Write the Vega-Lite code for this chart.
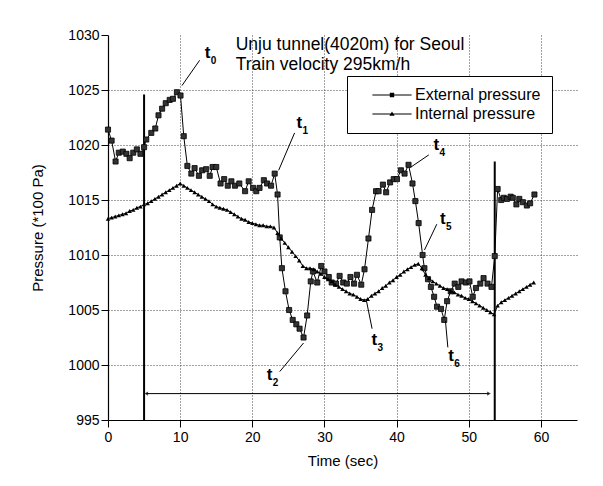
{
  "$schema": "https://vega.github.io/schema/vega-lite/v6.json",
  "width": 469,
  "height": 385,
  "autosize": "none",
  "padding": {"left": 108, "top": 35, "right": 26, "bottom": 66},
  "background": "white",
  "config": {
    "view": {"stroke": null},
    "font": "Liberation Sans",
    "axis": {
      "domainColor": "black", "domainWidth": 1.2, "tickColor": "black", "tickWidth": 1,
      "labelFont": "Liberation Sans", "labelFontSize": 14, "labelColor": "black", "labelOverlap": false,
      "titleFont": "Liberation Sans", "titleFontSize": 15, "titleFontWeight": "normal", "titleColor": "black",
      "gridColor": "#444", "gridDash": [1, 2], "gridWidth": 1
    }
  },
  "datasets": {
    "ext": [
      {"t":0,"p":1021.4},{"t":0.5,"p":1020.4},{"t":1.05,"p":1018.5},{"t":1.5,"p":1019.3},{"t":2.05,"p":1019.4},
      {"t":2.55,"p":1019.2},{"t":3.0,"p":1018.8},{"t":3.5,"p":1019.3},{"t":4.0,"p":1019.6},{"t":4.5,"p":1019.2},
      {"t":5.0,"p":1019.8},{"t":5.3,"p":1020.5},{"t":6.0,"p":1021.1},{"t":6.55,"p":1021.5},{"t":7.0,"p":1022.7},
      {"t":7.5,"p":1023.3},{"t":8.0,"p":1023.8},{"t":8.55,"p":1024.1},{"t":9.0,"p":1024.2},{"t":9.55,"p":1024.8},
      {"t":10.05,"p":1024.5},{"t":10.5,"p":1020.8},{"t":11.0,"p":1018.1},{"t":11.55,"p":1017.4},{"t":12.0,"p":1017.9},
      {"t":12.6,"p":1017.2},{"t":13.05,"p":1017.7},{"t":13.6,"p":1017.8},{"t":14.1,"p":1017.2},{"t":14.5,"p":1018.0},
      {"t":15.0,"p":1018.0},{"t":15.6,"p":1016.5},{"t":16.1,"p":1016.9},{"t":16.6,"p":1016.3},{"t":17.1,"p":1016.7},
      {"t":17.6,"p":1016.3},{"t":18.2,"p":1016.5},{"t":19.0,"p":1015.8},{"t":19.5,"p":1016.7},{"t":20.1,"p":1016.1},
      {"t":20.55,"p":1015.8},{"t":21.0,"p":1016.1},{"t":21.6,"p":1016.8},{"t":22.05,"p":1016.5},{"t":22.6,"p":1016.3},
      {"t":23.1,"p":1017.4},{"t":23.5,"p":1015.5},{"t":23.8,"p":1011.6},{"t":24.1,"p":1008.8},{"t":24.6,"p":1006.7},
      {"t":25.1,"p":1005.0},{"t":25.6,"p":1004.1},{"t":26.1,"p":1003.7},{"t":26.55,"p":1003.3},{"t":27.1,"p":1002.5},
      {"t":27.6,"p":1004.5},{"t":28.1,"p":1007.6},{"t":28.4,"p":1008.5},{"t":29.0,"p":1007.5},{"t":29.55,"p":1009.0},
      {"t":30.0,"p":1008.5},{"t":30.6,"p":1008.0},{"t":31.0,"p":1007.5},{"t":31.6,"p":1007.4},{"t":32.1,"p":1008.1},
      {"t":32.6,"p":1007.5},{"t":33.1,"p":1007.4},{"t":33.6,"p":1008.0},{"t":34.1,"p":1007.4},{"t":34.5,"p":1008.2},
      {"t":35.1,"p":1007.3},{"t":35.55,"p":1008.7},{"t":36.1,"p":1011.5},{"t":36.6,"p":1014.1},{"t":37.15,"p":1015.8},
      {"t":37.5,"p":1015.8},{"t":38.1,"p":1016.4},{"t":38.55,"p":1015.7},{"t":39.1,"p":1016.6},{"t":39.6,"p":1016.9},
      {"t":40.05,"p":1016.9},{"t":40.6,"p":1017.7},{"t":41.1,"p":1017.4},{"t":41.65,"p":1018.2},{"t":42.2,"p":1016.5},
      {"t":42.6,"p":1014.9},{"t":43.05,"p":1012.9},{"t":43.6,"p":1010.0},{"t":43.85,"p":1008.8},{"t":44.35,"p":1007.8},
      {"t":44.75,"p":1007.1},{"t":45.2,"p":1006.2},{"t":45.6,"p":1005.3},{"t":46.15,"p":1005.1},{"t":46.6,"p":1004.1},
      {"t":47.0,"p":1005.8},{"t":47.5,"p":1006.7},{"t":48.05,"p":1007.4},{"t":48.55,"p":1007.1},{"t":49.0,"p":1007.6},
      {"t":49.6,"p":1007.5},{"t":50.1,"p":1007.6},{"t":50.55,"p":1006.2},{"t":51.0,"p":1007.0},{"t":51.6,"p":1007.4},
      {"t":52.05,"p":1007.9},{"t":52.6,"p":1007.4},{"t":53.15,"p":1007.1},{"t":53.6,"p":1009.9},{"t":54.0,"p":1016.0},
      {"t":54.5,"p":1015.0},{"t":54.85,"p":1015.2},{"t":55.3,"p":1015.1},{"t":55.8,"p":1015.3},{"t":56.1,"p":1015.2},
      {"t":56.6,"p":1014.6},{"t":57.0,"p":1015.1},{"t":57.5,"p":1014.8},{"t":58.05,"p":1014.5},{"t":58.5,"p":1014.7},
      {"t":59.1,"p":1015.5}
    ],
    "int": [
      {"t":0,"p":1013.3},{"t":0.5,"p":1013.4},{"t":1,"p":1013.5},{"t":1.5,"p":1013.6},{"t":2,"p":1013.7},{"t":2.5,"p":1013.8},
      {"t":3,"p":1014.0},{"t":3.5,"p":1014.1},{"t":4,"p":1014.3},{"t":4.5,"p":1014.4},{"t":5,"p":1014.6},{"t":5.5,"p":1014.7},
      {"t":6,"p":1014.9},{"t":6.5,"p":1015.1},{"t":7,"p":1015.3},{"t":7.5,"p":1015.5},{"t":8,"p":1015.7},{"t":8.5,"p":1015.9},
      {"t":9,"p":1016.1},{"t":9.5,"p":1016.3},{"t":10,"p":1016.5},{"t":10.5,"p":1016.3},{"t":11,"p":1016.1},{"t":11.5,"p":1015.9},
      {"t":12,"p":1015.7},{"t":12.5,"p":1015.5},{"t":13,"p":1015.3},{"t":13.5,"p":1015.1},{"t":14,"p":1014.9},{"t":14.5,"p":1014.6},
      {"t":15,"p":1014.4},{"t":15.5,"p":1014.3},{"t":16,"p":1014.2},{"t":16.5,"p":1014.1},{"t":17,"p":1013.9},{"t":17.5,"p":1013.7},
      {"t":18,"p":1013.5},{"t":18.5,"p":1013.3},{"t":19,"p":1013.2},{"t":19.5,"p":1013.0},{"t":20,"p":1012.9},{"t":20.5,"p":1012.8},
      {"t":21,"p":1012.7},{"t":21.5,"p":1012.7},{"t":22,"p":1012.6},{"t":22.5,"p":1012.6},{"t":23,"p":1012.5},{"t":23.5,"p":1012.0},
      {"t":24,"p":1011.5},{"t":24.5,"p":1011.1},{"t":25,"p":1010.7},{"t":25.5,"p":1010.3},{"t":26,"p":1009.9},{"t":26.5,"p":1009.5},
      {"t":27,"p":1009.0},{"t":27.5,"p":1008.8},{"t":28,"p":1008.8},{"t":28.5,"p":1008.7},{"t":29,"p":1008.5},{"t":29.5,"p":1008.3},
      {"t":30,"p":1008.0},{"t":30.5,"p":1007.8},{"t":31,"p":1007.6},{"t":31.5,"p":1007.3},{"t":32,"p":1007.1},{"t":32.5,"p":1006.9},
      {"t":33,"p":1006.7},{"t":33.5,"p":1006.5},{"t":34,"p":1006.4},{"t":34.5,"p":1006.2},{"t":35,"p":1006.0},{"t":35.5,"p":1005.9},
      {"t":36,"p":1006.0},{"t":36.5,"p":1006.3},{"t":37,"p":1006.5},{"t":37.5,"p":1006.7},{"t":38,"p":1007.0},{"t":38.5,"p":1007.2},
      {"t":39,"p":1007.5},{"t":39.5,"p":1007.7},{"t":40,"p":1008.0},{"t":40.5,"p":1008.2},{"t":41,"p":1008.5},{"t":41.5,"p":1008.7},
      {"t":42,"p":1008.9},{"t":42.5,"p":1009.1},{"t":43,"p":1009.2},{"t":43.5,"p":1008.8},{"t":44,"p":1008.2},{"t":44.5,"p":1007.9},
      {"t":45,"p":1007.6},{"t":45.5,"p":1007.4},{"t":46,"p":1007.2},{"t":46.5,"p":1007.0},{"t":47,"p":1006.9},{"t":47.5,"p":1006.7},
      {"t":48,"p":1006.6},{"t":48.5,"p":1006.4},{"t":49,"p":1006.3},{"t":49.5,"p":1006.1},{"t":50,"p":1006.0},{"t":50.5,"p":1005.8},
      {"t":51,"p":1005.6},{"t":51.5,"p":1005.4},{"t":52,"p":1005.2},{"t":52.5,"p":1005.0},{"t":53,"p":1004.8},{"t":53.5,"p":1004.6},
      {"t":54,"p":1005.4},{"t":54.5,"p":1005.7},{"t":55,"p":1005.9},{"t":55.5,"p":1006.1},{"t":56,"p":1006.3},{"t":56.5,"p":1006.5},
      {"t":57,"p":1006.7},{"t":57.5,"p":1006.9},{"t":58,"p":1007.1},{"t":58.5,"p":1007.3},{"t":59,"p":1007.5}
    ],
    "vr": [{"t":5,"y1":995,"y2":1024.6},{"t":53.6,"y1":995,"y2":1018.5}],
    "arrow": [{"x1":5.3,"x2":52.8,"y":997.4}],
    "leaders": [
      {"x1":10.25,"y1":1025.4,"x2":12.7,"y2":1027.7},
      {"x1":23.65,"y1":1017.7,"x2":25.86,"y2":1021.1},
      {"x1":23.8,"y1":999.4,"x2":27.1,"y2":1002.0},
      {"x1":35.8,"y1":1005.9,"x2":36.6,"y2":1003.3},
      {"x1":42.0,"y1":1018.0,"x2":44.46,"y2":1019.1},
      {"x1":43.86,"y1":1010.45,"x2":45.57,"y2":1012.8},
      {"x1":46.77,"y1":1004.0,"x2":47.1,"y2":1001.6}
    ],
    "labels": [
      {"t":13.8,"p":1028.4,"sub":"0"},
      {"t":26.5,"p":1022.0,"sub":"1"},
      {"t":22.4,"p":999.1,"sub":"2"},
      {"t":36.9,"p":1002.3,"sub":"3"},
      {"t":45.5,"p":1020.0,"sub":"4"},
      {"t":46.4,"p":1013.3,"sub":"5"},
      {"t":47.55,"p":1000.8,"sub":"6"}
    ],
    "titles": [
      {"t":17.7,"p":1028.64,"txt":"Unju tunnel(4020m) for Seoul"},
      {"t":17.7,"p":1026.82,"txt":"Train velocity 295km/h"}
    ]
  },
  "layer": [
    {
      "data": {"name": "vr"},
      "mark": {"type": "rule", "color": "black", "strokeWidth": 2},
      "encoding": {
        "x": {"field": "t", "type": "quantitative", "scale": {"domain": [0, 65], "nice": false, "zero": false},
          "title": "Time (sec)",
          "axis": {
            "values": [0,2.5,5,7.5,10,12.5,15,17.5,20,22.5,25,27.5,30,32.5,35,37.5,40,42.5,45,47.5,50,52.5,55,57.5,60,62.5,65],
            "labelExpr": "datum.value % 5 === 0 ? format(datum.value, 'd') : ''",
            "labelOverlap": false,
            "tickSize": {"condition": {"test": "datum.value % 5 === 0", "value": 7}, "value": 4},
            "grid": true,
            "gridOpacity": {"condition": {"test": "datum.value % 5 === 0 && datum.value > 0 && datum.value < 65", "value": 1}, "value": 0},
            "labelPadding": 3, "titlePadding": 9, "labelFlush": false
          }
        },
        "y": {"field": "y1", "type": "quantitative", "scale": {"domain": [995, 1030], "nice": false, "zero": false},
          "title": "Pressure (*100 Pa)",
          "axis": {
            "values": [995,997.5,1000,1002.5,1005,1007.5,1010,1012.5,1015,1017.5,1020,1022.5,1025,1027.5,1030],
            "labelExpr": "datum.value % 5 === 0 ? format(datum.value, 'd') : ''",
            "labelOverlap": false,
            "tickSize": {"condition": {"test": "datum.value % 5 === 0", "value": 7}, "value": 4},
            "grid": true,
            "gridOpacity": {"condition": {"test": "datum.value % 5 === 0 && datum.value > 995 && datum.value < 1030", "value": 1}, "value": 0},
            "labelPadding": 2, "titlePadding": 22
          }
        },
        "y2": {"field": "y2"}
      }
    },
    {
      "data": {"name": "arrow"},
      "mark": {"type": "rule", "color": "black", "strokeWidth": 1},
      "encoding": {
        "x": {"field": "x1", "type": "quantitative"},
        "x2": {"field": "x2"},
        "y": {"field": "y", "type": "quantitative"}
      }
    },
    {
      "data": {"name": "arrow"},
      "mark": {"type": "point", "shape": "triangle-left", "filled": true, "color": "black", "size": 18},
      "encoding": {
        "x": {"field": "x1", "type": "quantitative"},
        "y": {"field": "y", "type": "quantitative"}
      }
    },
    {
      "data": {"name": "arrow"},
      "mark": {"type": "point", "shape": "triangle-right", "filled": true, "color": "black", "size": 18},
      "encoding": {
        "x": {"field": "x2", "type": "quantitative"},
        "y": {"field": "y", "type": "quantitative"}
      }
    },
    {
      "data": {"name": "ext"},
      "mark": {"type": "line", "color": "black", "strokeWidth": 1},
      "encoding": {
        "x": {"field": "t", "type": "quantitative"},
        "y": {"field": "p", "type": "quantitative"}
      }
    },
    {
      "data": {"name": "ext"},
      "mark": {"type": "point", "shape": "square", "filled": true, "fill": "#333", "stroke": "black", "strokeWidth": 0.8, "size": 26, "opacity": 1},
      "encoding": {
        "x": {"field": "t", "type": "quantitative"},
        "y": {"field": "p", "type": "quantitative"}
      }
    },
    {
      "data": {"name": "int"},
      "mark": {"type": "line", "color": "black", "strokeWidth": 1},
      "encoding": {
        "x": {"field": "t", "type": "quantitative"},
        "y": {"field": "p", "type": "quantitative"}
      }
    },
    {
      "data": {"name": "int"},
      "mark": {"type": "point", "shape": "triangle-up", "filled": true, "color": "black", "size": 20, "opacity": 1},
      "encoding": {
        "x": {"field": "t", "type": "quantitative"},
        "y": {"field": "p", "type": "quantitative"}
      }
    },
    {
      "data": {"name": "leaders"},
      "mark": {"type": "rule", "color": "black", "strokeWidth": 1},
      "encoding": {
        "x": {"field": "x1", "type": "quantitative"},
        "y": {"field": "y1", "type": "quantitative"},
        "x2": {"field": "x2"},
        "y2": {"field": "y2"}
      }
    },
    {
      "data": {"name": "labels"},
      "mark": {"type": "text", "text": "t", "font": "Liberation Sans", "fontSize": 17, "fontWeight": "bold", "color": "black", "align": "center", "baseline": "middle"},
      "encoding": {
        "x": {"field": "t", "type": "quantitative"},
        "y": {"field": "p", "type": "quantitative"}
      }
    },
    {
      "data": {"name": "labels"},
      "mark": {"type": "text", "font": "Liberation Sans", "fontSize": 10, "fontWeight": "bold", "color": "black", "align": "center", "baseline": "middle", "dx": 6, "dy": 8},
      "encoding": {
        "x": {"field": "t", "type": "quantitative"},
        "y": {"field": "p", "type": "quantitative"},
        "text": {"field": "sub"}
      }
    },
    {
      "data": {"name": "titles"},
      "mark": {"type": "text", "font": "Liberation Sans", "fontSize": 17.5, "color": "black", "align": "left", "baseline": "alphabetic"},
      "encoding": {
        "x": {"field": "t", "type": "quantitative"},
        "y": {"field": "p", "type": "quantitative"},
        "text": {"field": "txt"}
      }
    },
    {
      "data": {"name": "ext"},
      "transform": [{"filter": "datum.t < -100"}],
      "mark": {"type": "point", "filled": true, "fill": "black", "opacity": 1},
      "encoding": {
        "shape": {
          "field": "series", "type": "nominal",
          "scale": {
            "domain": ["External pressure", "Internal pressure"],
            "range": ["M-4.9,-0.13H4.9V0.13H-4.9Z M-0.55,-0.55H0.55V0.55H-0.55Z", "M-4.9,-0.13H4.9V0.13H-4.9Z M0,-0.65L0.65,0.45H-0.65Z"]
          },
          "legend": {
            "title": null, "orient": "none", "legendX": 239, "legendY": 41,
            "symbolSize": 64, "symbolFillColor": "black", "symbolStrokeWidth": 0,
            "symbolOffset": 26,
            "labelFont": "Liberation Sans", "labelFontSize": 16, "labelColor": "black", "labelOffset": 15,
            "strokeColor": "black", "fillColor": "white", "padding": 11, "rowPadding": 3
          }
        }
      }
    }
  ]
}
